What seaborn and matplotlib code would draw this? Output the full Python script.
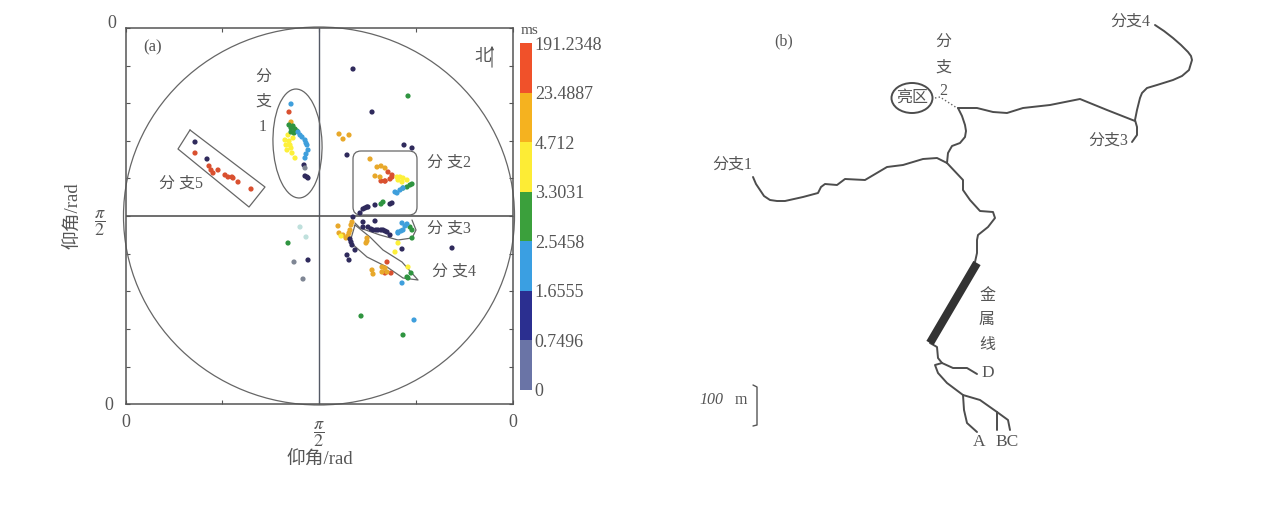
import matplotlib
matplotlib.use("Agg")
import numpy as np
import pandas as pd
import seaborn as sns
import matplotlib.pyplot as plt
from matplotlib.colors import ListedColormap
from matplotlib.patches import Ellipse, FancyBboxPatch

W, H = 1273, 520
INK = "#555555"
FAM = ["Liberation Serif", "Noto Sans CJK SC", "DejaVu Sans"]

# colour scale (top to bottom)
scale_labels = ["191.2348", "23.4887", "4.712", "3.3031", "2.5458", "1.6555", "0.7496", "0"]
scale_colors = ["#f0512a", "#f5b21f", "#fdec35", "#3ba03c", "#3a9fe2", "#2b2f90", "#6a74a6"]
class_names = ["red", "orange", "yellow", "green", "blue", "navy", "slate", "pale"]
point_colors = ["#d9502f", "#e8a82a", "#fdf03a", "#2f9440", "#3f9fdc", "#2f2a5c", "#7f8694", "#bfe0dc"]

# arrival points per time class (azimuth / elevation, picture units)
red_x = [289, 385, 388, 392, 390, 385, 381, 385, 391, 195, 209, 211, 213, 218, 225, 228, 232, 233, 238, 251, 387, 392]
red_y = [112, 181, 172, 175, 179, 181, 181, 273, 273, 153, 166, 170, 173, 170, 175, 177, 177, 178, 182, 189, 262, 177]
orange_x = [291, 339, 349, 343, 370, 377, 381, 385, 375, 380, 338, 339, 343, 348, 350, 352, 351, 349, 367, 366, 367,
            372, 373, 382, 385, 387, 382, 346]
orange_y = [122, 134, 135, 139, 159, 167, 166, 168, 176, 177, 226, 233, 235, 236, 230, 222, 225, 233, 238, 243, 241,
            270, 274, 267, 268, 272, 272, 238]
yellow_x = [285, 288, 293, 287, 292, 295, 290, 286, 289, 291, 397, 400, 403, 407, 402, 398, 341, 395, 398, 408]
yellow_y = [140, 135, 138, 150, 153, 158, 145, 145, 141, 148, 177, 177, 178, 180, 182, 180, 236, 252, 243, 267]
green_x = [289, 291, 293, 295, 297, 291, 294, 408, 407, 410, 412, 403, 383, 381, 410, 412, 412, 408, 411, 407, 288, 361, 403]
green_y = [125, 128, 126, 129, 131, 132, 133, 96, 187, 185, 184, 188, 202, 204, 227, 230, 238, 278, 273, 277, 243, 316, 335]
blue_x = [291, 298, 300, 302, 305, 306, 307, 308, 306, 305, 395, 397, 400, 403, 398, 398, 401, 403, 402, 407, 405, 402, 414]
blue_y = [104, 132, 135, 137, 140, 143, 145, 150, 154, 158, 192, 193, 190, 188, 232, 233, 231, 230, 223, 224, 226, 283, 320]
navy_x = [304, 305, 307, 308, 353, 372, 347, 404, 412, 375, 392, 390, 367, 365, 363, 360, 368, 353, 363, 363, 375,
          368, 371, 373, 376, 378, 381, 383, 385, 387, 390, 350, 351, 352, 355, 347, 349, 402, 452, 308, 195, 207]
navy_y = [165, 176, 177, 178, 69, 112, 155, 145, 148, 205, 203, 204, 207, 208, 209, 213, 207, 217, 222, 227, 221,
          227, 229, 230, 230, 230, 230, 230, 231, 232, 235, 239, 242, 245, 250, 255, 260, 249, 248, 260, 142, 159]
slate_x = [294, 303, 305]
slate_y = [262, 279, 168]
pale_x = [300, 306]
pale_y = [227, 237]

# panel (b) tree
trunk_top_x = [1155, 1164, 1173, 1181, 1188, 1191, 1192, 1189, 1182, 1173, 1157, 1147, 1142, 1140, 1137, 1135, 1137, 1137, 1132]
trunk_top_y = [25, 31, 38, 45, 52, 56, 60, 70, 76, 80, 85, 88, 93, 98, 110, 120, 127, 135, 142]
cross_x = [958, 977, 993, 1007, 1023, 1050, 1080, 1107, 1135]
cross_y = [108, 108, 112, 113, 108, 105, 99, 110, 121]
link_x = [958, 962, 965, 966, 965, 960, 952, 948, 947]
link_y = [108, 116, 125, 131, 137, 143, 146, 153, 163]
branch1_x = [753, 756, 760, 764, 770, 777, 785, 803, 818, 821, 825, 837, 845, 865, 887, 903, 923, 937, 947]
branch1_y = [177, 184, 190, 196, 200, 201, 201, 197, 193, 187, 184, 185, 179, 180, 167, 165, 159, 158, 163]
down_x = [947, 963, 963, 970, 980, 993, 995, 988, 978, 977, 977, 975]
down_y = [163, 180, 190, 200, 211, 212, 218, 227, 235, 240, 253, 262]
wire_x = [977, 930]
wire_y = [263, 343]
stem_x = [930, 937, 938, 942]
stem_y = [343, 347, 358, 363]
d_x = [942, 953, 967, 977]
d_y = [363, 368, 368, 374]
root_x = [942, 935, 938, 947, 963, 980, 997, 1008, 1010]
root_y = [363, 365, 373, 383, 395, 400, 412, 420, 430]
a_x = [963, 964, 967, 977]
a_y = [395, 410, 423, 432]
b_x = [997, 997]
b_y = [412, 430]
dots_x = [935, 940, 957]
dots_y = [98, 97, 108]
bracket_x = [753, 757, 757, 753]
bracket_y = [385, 387, 425, 426]

# outlines drawn around the branches in panel (a)
box5_x = [190, 265, 249, 178, 190]
box5_y = [130, 187, 207, 149, 130]
box3_x = [412, 416, 412, 398, 380, 360, 355]
box3_y = [220, 230, 238, 240, 235, 228, 223]
box4_x = [355, 370, 383, 402, 418, 403, 387, 367, 350, 355]
box4_y = [225, 237, 250, 262, 280, 278, 267, 257, 242, 225]

sns.set_theme(style="white", rc={"mathtext.fontset": "stix"})
plt.rcParams["font.family"] = FAM
fig = plt.figure(figsize=(W / 100, H / 100), dpi=100)


def rect(x0, y0, x1, y1):
    return [x0 / W, 1 - y1 / H, (x1 - x0) / W, (y1 - y0) / H]


def polyline(ax, xs, ys, color=INK, lw=1.0, ls="-", zorder=2, cap="round"):
    sns.lineplot(x=xs, y=ys, ax=ax, sort=False, estimator=None, errorbar=None, legend=False,
                 color=color, linewidth=lw, linestyle=ls, zorder=zorder, clip_on=False,
                 solid_capstyle=cap)


# full canvas: panel (b) and annotations
canvas = fig.add_axes(rect(0, 0, W, H))
canvas.set_xlim(0, W)
canvas.set_ylim(H, 0)
canvas.axis("off")

# panel (a)
ax = fig.add_axes(rect(126, 28, 513, 404))
ax.set_xlim(126, 513)
ax.set_ylim(404, 28)
ax.set_facecolor("none")
for s in ax.spines.values():
    s.set_color(INK)
    s.set_linewidth(1.1)

groups = [red_x, orange_x, yellow_x, green_x, blue_x, navy_x, slate_x, pale_x]
groups_y = [red_y, orange_y, yellow_y, green_y, blue_y, navy_y, slate_y, pale_y]
points = pd.concat([pd.DataFrame({"az": x, "el": y, "cls": c})
                    for x, y, c in zip(groups, groups_y, class_names)])
sns.scatterplot(data=points, x="az", y="el", hue="cls", hue_order=class_names,
                palette=dict(zip(class_names, point_colors)), s=14, linewidth=0,
                legend=False, ax=ax, zorder=3)

PI2 = r"$\dfrac{\pi}{2}$"
ax.set_xticks([126, 222, 319, 416, 513])
ax.set_xticklabels(["0", "", PI2, "", "0"], fontsize=13, color=INK)
ax.set_yticks([28, 66, 103, 141, 178, 216, 254, 291, 329, 367, 404])
ax.set_yticklabels(["", "", "", "", "", PI2, "", "", "", "", "0"], fontsize=13, color=INK)
ax.tick_params(direction="in", length=3, width=0.8, color=INK, top=True, right=True,
               bottom=True, left=True, labelcolor=INK)
ax.tick_params(axis="x", pad=7)
ax.tick_params(axis="y", pad=9)
ax.xaxis.get_major_ticks()[2].set_pad(11)
ax.yaxis.get_major_ticks()[5].set_pad(15)
ax.add_patch(Ellipse((319, 216), 391, 378, fill=False, ec="#666666", lw=0.9, clip_on=False))
ax.axvline(319, color="#555a66", lw=1.0)
ax.axhline(215.5, color=INK, lw=1.2)

ax.add_patch(Ellipse((297.5, 143.5), 49, 109, angle=-2, fill=False, ec="#666666", lw=0.9, zorder=2))
ax.add_patch(FancyBboxPatch((361, 159), 48, 48, boxstyle="round,pad=8,rounding_size=8",
                            fill=False, ec="#666666", lw=0.9, zorder=2))
for xs, ys in [(box5_x, box5_y), (box3_x, box3_y), (box4_x, box4_y)]:
    polyline(ax, xs, ys, color="#666666", lw=0.9)
ax.set_xlabel("仰角/rad", fontsize=13.5, color=INK, labelpad=1)
ax.set_ylabel("仰角/rad", fontsize=13.5, color=INK, labelpad=9)

# colour bar
cbar_ax = fig.add_axes(rect(520, 43, 532, 390))
sns.heatmap(np.arange(7).reshape(7, 1), cmap=ListedColormap(scale_colors), cbar=False,
            xticklabels=False, ax=cbar_ax)
cbar_ax.yaxis.tick_right()
cbar_ax.set_yticks(np.arange(8))
cbar_ax.set_yticklabels(scale_labels, fontsize=13, color=INK, rotation=0)
cbar_ax.tick_params(axis="y", length=0, pad=2)


def label(x, y, s, size=11.5, **kw):
    kw.setdefault("ha", "center")
    kw.setdefault("va", "center")
    canvas.text(x, y, s, fontsize=size, color=INK, zorder=6, **kw)


label(112, 23, "0", 13)
label(153, 47, "(a)", 12)
for yy, s in zip([78, 102, 127], ["分", "支", "1"]):
    label(263, yy, s)
label(181, 184, "分 支5")
label(449, 163, "分 支2")
label(449, 229, "分 支3")
label(454, 272, "分 支4")
label(483, 57, "北", 12)
canvas.annotate("", xy=(492, 43), xytext=(492, 70),
                arrowprops=dict(arrowstyle="-|>", color=INK, lw=0.8, mutation_scale=5))
label(530, 31, "ms", 11)

# panel (b)
for xs, ys in [(trunk_top_x, trunk_top_y), (cross_x, cross_y), (link_x, link_y),
               (branch1_x, branch1_y), (down_x, down_y), (stem_x, stem_y),
               (d_x, d_y), (root_x, root_y), (a_x, a_y), (b_x, b_y)]:
    polyline(canvas, xs, ys, color="#4d4d4d", lw=1.4)
polyline(canvas, wire_x, wire_y, color="#333333", lw=6.0, cap="butt")
polyline(canvas, dots_x, dots_y, color="#666666", lw=1.0, ls=":")
polyline(canvas, bracket_x, bracket_y, color="#555555", lw=1.0)
canvas.add_patch(Ellipse((912, 98), 41, 30, fill=False, ec="#4d4d4d", lw=1.4))

label(784, 41, "(b)", 11.5)
for yy, s in zip([43, 68, 91], ["分", "支", "2"]):
    label(943, yy, s)
label(912, 98, "亮区")
label(1130, 22, "分支4")
label(1108, 141, "分支3")
label(732, 165, "分支1")
for yy, s in zip([296, 320, 345], ["金", "属", "线"]):
    label(987, yy, s)
label(988, 373, "D", 12.5)
label(979, 442, "A", 12.5)
label(1007, 442, "BC", 12.5)
label(711, 400, "100", 11.5, style="italic")
label(741, 400, "m", 11.5)

fig.savefig("out.png", dpi=100)
